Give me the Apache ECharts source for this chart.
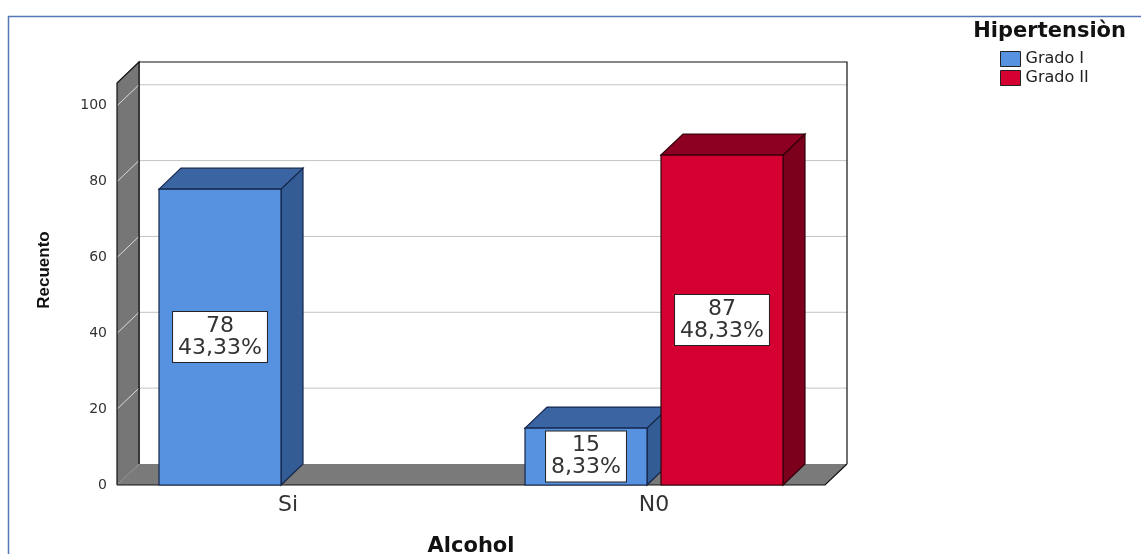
<!DOCTYPE html>
<html>
<head>
    <meta charset="utf-8">
    <title>Alcohol / Hipertensiòn</title>
    <script src="https://cdn.jsdelivr.net/npm/echarts@6/dist/echarts.min.js"></script>
    <style>
        html, body { margin: 0; padding: 0; background: #fff; }
        #main { width: 1141px; height: 554px; }
    </style>
</head>
<body>
<div id="main"></div>
<script>
    // 数据
    var categories = ['Si', 'N0'];
    var gradoI = [78, 15];
    var gradoII = [0, 87];
    var gradoIPct = [43.33, 8.33];
    var gradoIIPct = [0, 48.33];
    var yTicks = [0, 20, 40, 60, 80, 100];

    var FONT = '"DejaVu Sans", sans-serif';
    var DX = 22, DY = -21;          // 3D depth offset
    var INSET = 12;                 // walls sit a bit inside the grid
    var BAR_W = 122, BAR_GAP = 14;

    function pctText(v) {
        return v.toFixed(2).replace('.', ',') + '%';
    }

    // walls, floor and grid lines
    function renderWalls(params, api) {
        var cs = params.coordSys;
        var x0 = cs.x + INSET, x1 = cs.x + cs.width - INSET;
        var yb = api.coord([0, 0])[1];
        var yt = cs.y;
        var kids = [];

        kids.push({type: 'rect', shape: {x: x0 + DX, y: yt + DY, width: x1 - x0, height: yb - yt},
            style: {fill: '#fff'}});
        yTicks.forEach(function (v) {
            if (v === 0) return;
            var y = api.coord([0, v])[1];
            kids.push({type: 'line', shape: {x1: x0 + DX, y1: y + DY, x2: x1 + DX, y2: y + DY},
                style: {stroke: '#c4c4c4', lineWidth: 1}});
        });
        kids.push({type: 'polyline', shape: {points: [[x0 + DX, yb + DY], [x0 + DX, yt + DY], [x1 + DX, yt + DY], [x1 + DX, yb + DY]]},
            style: {stroke: '#111', lineWidth: 1.2, fill: null}});

        // floor
        kids.push({type: 'polygon', shape: {points: [[x0, yb], [x1, yb], [x1 + DX, yb + DY], [x0 + DX, yb + DY]]},
            style: {fill: '#7a7a7a'}});
        kids.push({type: 'polyline', shape: {points: [[x0, yb], [x1, yb], [x1 + DX, yb + DY]]},
            style: {stroke: '#111', lineWidth: 1.2, fill: null}});

        // left wall
        kids.push({type: 'polygon', shape: {points: [[x0, yt], [x0 + DX, yt + DY], [x0 + DX, yb + DY], [x0, yb]]},
            style: {fill: '#767676'}});
        yTicks.forEach(function (v) {
            if (v === 0) return;
            var y = api.coord([0, v])[1];
            kids.push({type: 'line', shape: {x1: x0, y1: y, x2: x0 + DX, y2: y + DY},
                style: {stroke: '#dcdcdc', lineWidth: 1}});
        });
        kids.push({type: 'polyline', shape: {points: [[x0, yb], [x0, yt], [x0 + DX, yt + DY], [x0 + DX, yb + DY]]},
            style: {stroke: '#111', lineWidth: 1.2, fill: null}});

        return {type: 'group', children: kids};
    }

    function barRenderer(side, colors, pcts) {
        return function (params, api) {
            var val = api.value(1);
            if (!val) return null;
            var cx = api.coord([api.value(0), 0])[0];
            var yb = api.coord([0, 0])[1];
            var yt = api.coord([0, val])[1];
            var xl = side < 0 ? cx - BAR_GAP / 2 - BAR_W : cx + BAR_GAP / 2;
            var xr = xl + BAR_W;
            var line = {stroke: colors.edge, lineWidth: 1.2};
            return {
                type: 'group',
                children: [
                    {type: 'polygon', shape: {points: [[xr, yt], [xr + DX, yt + DY], [xr + DX, yb + DY], [xr, yb]]},
                        style: Object.assign({fill: colors.side}, line)},
                    {type: 'polygon', shape: {points: [[xl, yt], [xl + DX, yt + DY], [xr + DX, yt + DY], [xr, yt]]},
                        style: Object.assign({fill: colors.top}, line)},
                    {type: 'rect', shape: {x: xl, y: yt, width: BAR_W, height: yb - yt},
                        style: Object.assign({fill: colors.front}, line)},
                    {type: 'text', x: (xl + xr) / 2, y: (yt + yb) / 2,
                        style: {
                            text: val + '\n' + pctText(pcts[params.dataIndex]),
                            font: '22px ' + FONT, fill: '#333', lineHeight: 22,
                            align: 'center', verticalAlign: 'middle',
                            backgroundColor: '#fff', borderColor: '#222', borderWidth: 1,
                            padding: [3, 5]
                        }}
                ]
            };
        };
    }

    var blue = {front: '#5692df', top: '#3a64a2', side: '#335c95', edge: '#15264a'};
    var red = {front: '#d50032', top: '#8e0022', side: '#7c001c', edge: '#33000c'};

    var myChart = echarts.init(document.getElementById('main'));
    var option = {
        animation: false,
        title: {
            text: 'Hipertensiòn',
            right: 10, top: 16,
            textStyle: {fontFamily: FONT, fontSize: 21, fontWeight: 'bold', color: '#111'}
        },
        legend: {
            orient: 'vertical',
            left: 995, top: 46,
            itemWidth: 20, itemHeight: 15, itemGap: 3,
            icon: 'rect',
            textStyle: {fontFamily: FONT, fontSize: 16, color: '#222'},
            data: [
                {name: 'Grado I', itemStyle: {color: blue.front, borderColor: '#222', borderWidth: 1}},
                {name: 'Grado II', itemStyle: {color: red.front, borderColor: '#222', borderWidth: 1}}
            ]
        },
        graphic: [{
            type: 'polyline',
            shape: {points: [[8.5, 554], [8.5, 16.5], [1141, 16.5]]},
            style: {stroke: '#5877b8', lineWidth: 1.5, fill: null}
        }],
        grid: {left: 105, right: 304, top: 83, bottom: 69, outerBoundsMode: 'none'},
        xAxis: {
            type: 'category',
            data: categories,
            name: 'Alcohol',
            nameLocation: 'middle',
            nameGap: 51,
            nameTextStyle: {fontFamily: FONT, fontSize: 21, fontWeight: 'bold', color: '#111'},
            axisLine: {show: false},
            axisTick: {show: false},
            axisLabel: {fontFamily: FONT, fontSize: 22, color: '#333', margin: 9}
        },
        yAxis: {
            type: 'value',
            min: 0, max: 106, interval: 20,
            offset: -INSET,
            name: 'Recuento',
            nameLocation: 'middle',
            nameGap: 64,
            nameTextStyle: {fontFamily: '"Liberation Sans", Arial, sans-serif', fontSize: 17,
                fontWeight: 'bold', color: '#111', padding: [0, 0, 0, 28]},
            axisLine: {show: false},
            axisTick: {show: false},
            splitLine: {show: false},
            axisLabel: {fontFamily: FONT, fontSize: 14, color: '#333', margin: 10, showMaxLabel: false}
        },
        series: [
            {type: 'custom', silent: true, clip: false, renderItem: renderWalls, data: [[0, 0]], z: 1},
            {type: 'custom', name: 'Grado I', clip: false, renderItem: barRenderer(-1, blue, gradoIPct),
                data: gradoI.map(function (v, i) { return [i, v]; }), z: 2},
            {type: 'custom', name: 'Grado II', clip: false, renderItem: barRenderer(1, red, gradoIIPct),
                data: gradoII.map(function (v, i) { return [i, v]; }), z: 3}
        ]
    };
    myChart.setOption(option);
</script>
</body>
</html>
